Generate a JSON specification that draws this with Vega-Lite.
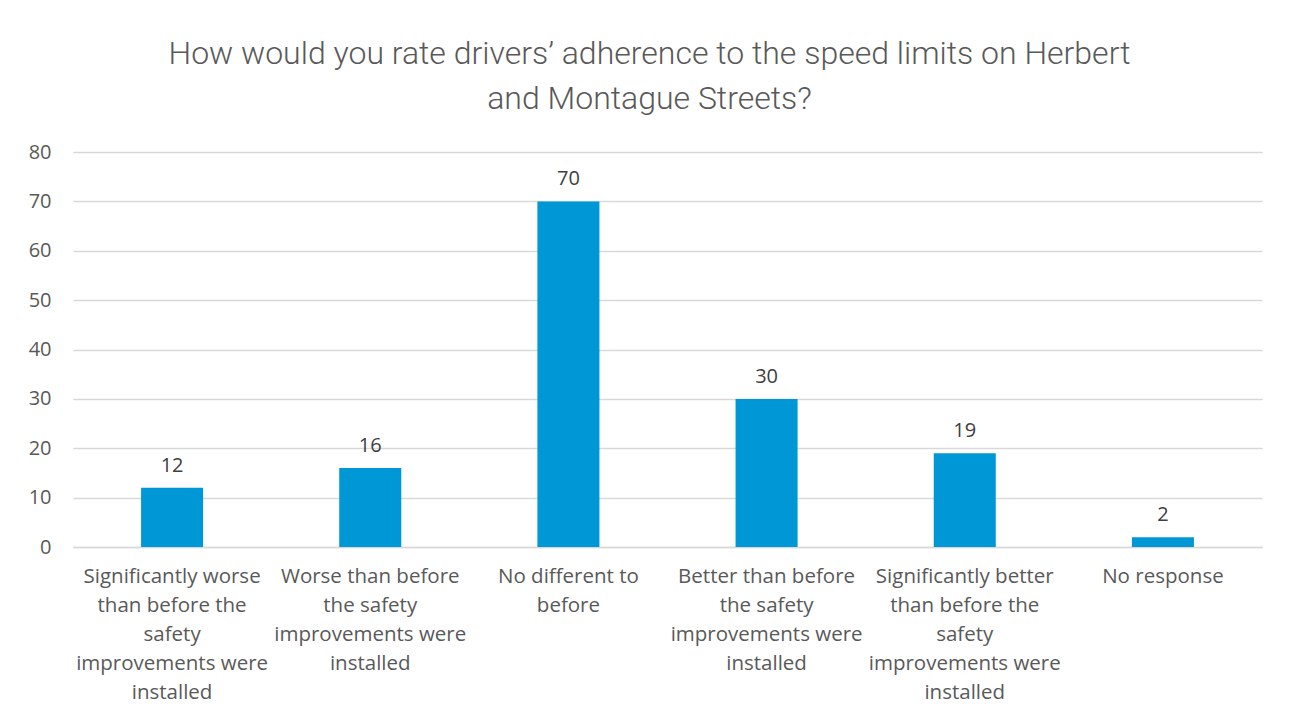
{
  "$schema": "https://vega.github.io/schema/vega-lite/v6.json",
  "width": 1189,
  "height": 395,
  "autosize": {"type": "none"},
  "padding": {"left": 73, "top": 152, "right": 30, "bottom": 173},
  "background": "white",
  "title": {
    "text": ["How would you rate drivers’ adherence to the speed limits on Herbert", "and Montague Streets?"],
    "font": "Roboto",
    "fontWeight": 300,
    "fontSize": 32,
    "color": "#595959",
    "lineHeight": 45,
    "anchor": "middle",
    "dx": -18,
    "offset": 26
  },
  "data": {
    "values": [
      {"category": "Significantly worse|than before the|safety|improvements were|installed", "count": 12},
      {"category": "Worse than before|the safety|improvements were|installed", "count": 16},
      {"category": "No different to|before", "count": 70},
      {"category": "Better than before|the safety|improvements were|installed", "count": 30},
      {"category": "Significantly better|than before the|safety|improvements were|installed", "count": 19},
      {"category": "No response", "count": 2}
    ]
  },
  "encoding": {
    "x": {
      "field": "category",
      "type": "nominal",
      "sort": null,
      "scale": {"paddingInner": 0.687, "paddingOuter": 0.3435},
      "axis": {
        "title": null,
        "labelAngle": 0,
        "labelExpr": "split(datum.label, '|')",
        "labelFont": "Open Sans",
        "labelFontSize": 20.5,
        "labelColor": "#595959",
        "labelLineHeight": 29,
        "labelPadding": 19,
        "labelLimit": 400,
        "labelBaseline": "top",
        "ticks": false,
        "domainColor": "#d9d9d9",
        "domainWidth": 1.5
      }
    },
    "y": {
      "field": "count",
      "type": "quantitative",
      "scale": {"domain": [0, 80]},
      "axis": {
        "title": null,
        "values": [0, 10, 20, 30, 40, 50, 60, 70, 80],
        "labelFont": "Open Sans",
        "labelFontSize": 20,
        "labelColor": "#595959",
        "labelPadding": 22,
        "ticks": false,
        "domain": false,
        "gridColor": "#d9d9d9",
        "gridWidth": 1.5
      }
    }
  },
  "layer": [
    {"mark": {"type": "bar", "color": "#0097d7"}},
    {
      "mark": {"type": "text", "font": "Open Sans", "fontSize": 20, "color": "#404040", "baseline": "alphabetic", "dy": -16},
      "encoding": {"text": {"field": "count", "type": "quantitative"}}
    }
  ],
  "config": {"view": {"stroke": null}}
}
